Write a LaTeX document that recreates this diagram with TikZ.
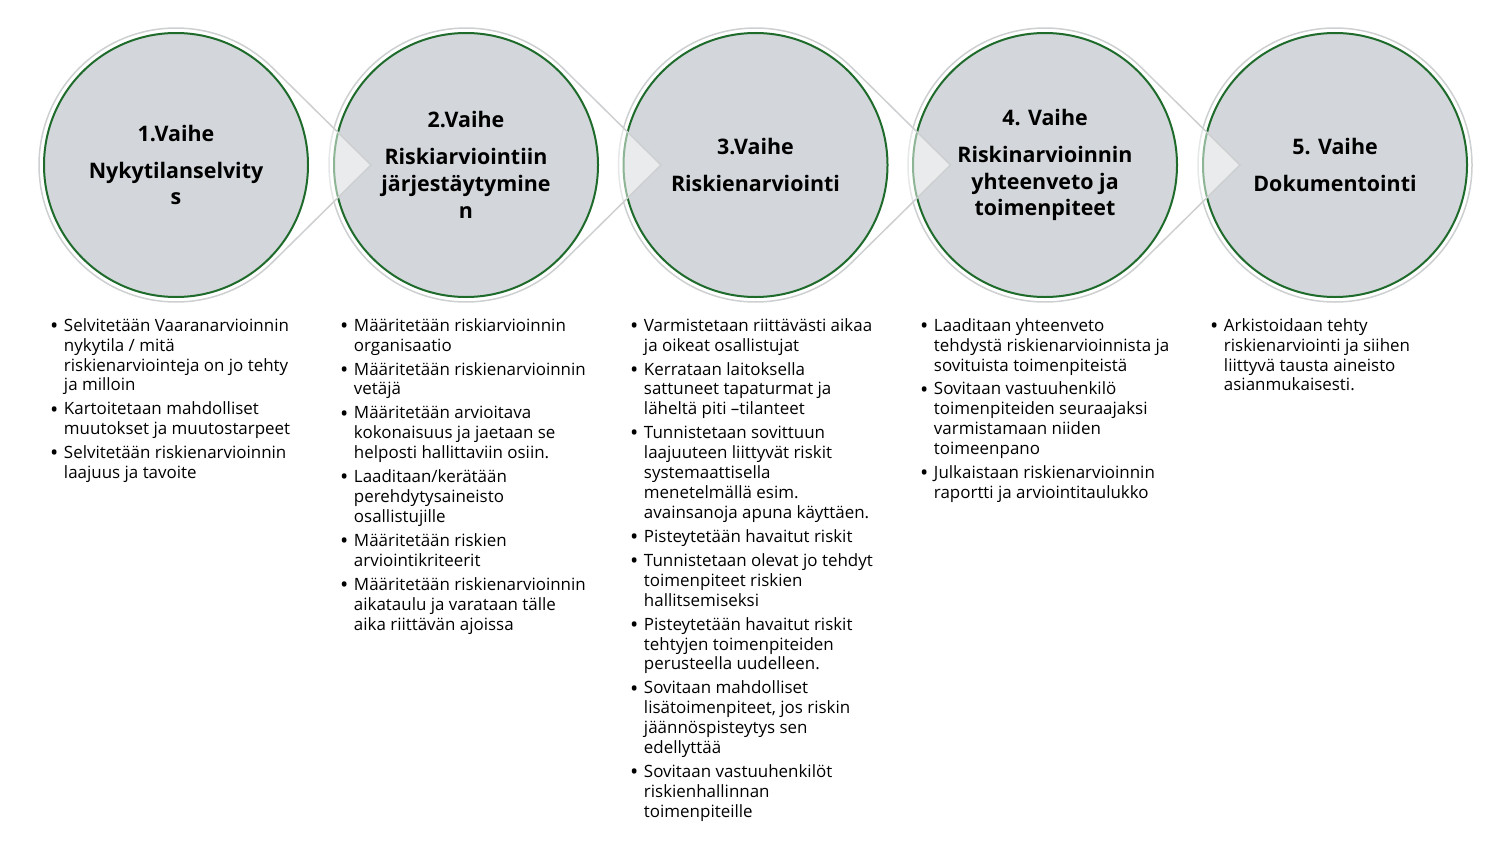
\documentclass[tikz,border=0pt]{standalone}
\usepackage{fontspec}
\setmainfont{Open Sans}
\usetikzlibrary{positioning,calc}
\definecolor{phasegray}{HTML}{D3D7DB}
\definecolor{phasegreen}{HTML}{1E6B2C}
\definecolor{ringgray}{HTML}{CDCFD1}
% outline round a phase circle, pointing to the next one
\newcommand{\teardrop}[1]{%
  \path[tear] ($(#1)+(195,0)$) -- ($(#1)+(45.4:137)$)
    arc[start angle=45.4,end angle=314.6,radius=137] -- cycle;}
\newcommand{\lbul}{\raisebox{-2.2bp}{\scalebox{1.3}{\textbullet}}}

\begin{document}
\begin{tikzpicture}[x=1bp,y=-1bp,
  phase/.style={circle,draw=phasegreen,line width=2bp,fill=phasegray,minimum size=264bp,
    inner sep=0pt,align=center,font=\fontsize{21.5}{27}\selectfont\bfseries},
  tear/.style={draw=ringgray,line width=1.5bp,fill=white,fill opacity=0.5,draw opacity=1},
  list/.style={anchor=north west,inner sep=0pt,font=\fontsize{17}{20}\selectfont}]
\useasboundingbox (0,0) rectangle (1495,841);
\foreach \i/\x in {1/176,2/466,3/755.5,4/1045,5/1335}
  \coordinate (p\i) at (\x,165);

\path[tear] (p5) circle[radius=137];
\node[phase] (c5) at (p5) {5. Vaihe\\[10bp]Dokumentointi};
\teardrop{p4}
\node[phase] (c4) at (p4) {4. Vaihe\\[10bp]Riskinarvioinnin\\yhteenveto ja\\toimenpiteet};
\teardrop{p3}
\node[phase] (c3) at (p3) {3.Vaihe\\[10bp]Riskienarviointi};
\teardrop{p2}
\node[phase] (c2) at (p2) {2.Vaihe\\[10bp]Riskiarviointiin\\järjestäytymine\\n};
\teardrop{p1}
\node[phase] (c1) at (p1) {1.Vaihe\\[10bp]Nykytilanselvity\\s};

\node[list] (l1) at (50,317) {\begin{tabular}{@{}l@{\hspace{5.5bp}}l@{}}
\lbul & Selvitetään Vaaranarvioinnin\\ & nykytila / mitä\\ & riskienarviointeja on jo tehty\\ & ja milloin\\[4bp]
\lbul & Kartoitetaan mahdolliset\\ & muutokset ja muutostarpeet\\[4bp]
\lbul & Selvitetään riskienarvioinnin\\ & laajuus ja tavoite
\end{tabular}};

\node[list] (l2) at (340,317) {\begin{tabular}{@{}l@{\hspace{5.5bp}}l@{}}
\lbul & Määritetään riskiarvioinnin\\ & organisaatio\\[4bp]
\lbul & Määritetään riskienarvioinnin\\ & vetäjä\\[4bp]
\lbul & Määritetään arvioitava\\ & kokonaisuus ja jaetaan se\\ & helposti hallittaviin osiin.\\[4bp]
\lbul & Laaditaan/kerätään\\ & perehdytysaineisto\\ & osallistujille\\[4bp]
\lbul & Määritetään riskien\\ & arviointikriteerit\\[4bp]
\lbul & Määritetään riskienarvioinnin\\ & aikataulu ja varataan tälle\\ & aika riittävän ajoissa
\end{tabular}};

\node[list] (l3) at (630,317) {\begin{tabular}{@{}l@{\hspace{5.5bp}}l@{}}
\lbul & Varmistetaan riittävästi aikaa\\ & ja oikeat osallistujat\\[4bp]
\lbul & Kerrataan laitoksella\\ & sattuneet tapaturmat ja\\ & läheltä piti –tilanteet\\[4bp]
\lbul & Tunnistetaan sovittuun\\ & laajuuteen liittyvät riskit\\ & systemaattisella\\ & menetelmällä esim.\\ & avainsanoja apuna käyttäen.\\[4bp]
\lbul & Pisteytetään havaitut riskit\\[4bp]
\lbul & Tunnistetaan olevat jo tehdyt\\ & toimenpiteet riskien\\ & hallitsemiseksi\\[4bp]
\lbul & Pisteytetään havaitut riskit\\ & tehtyjen toimenpiteiden\\ & perusteella uudelleen.\\[4bp]
\lbul & Sovitaan mahdolliset\\ & lisätoimenpiteet, jos riskin\\ & jäännöspisteytys sen\\ & edellyttää\\[4bp]
\lbul & Sovitaan vastuuhenkilöt\\ & riskienhallinnan\\ & toimenpiteille
\end{tabular}};

\node[list] (l4) at (920,317) {\begin{tabular}{@{}l@{\hspace{5.5bp}}l@{}}
\lbul & Laaditaan yhteenveto\\ & tehdystä riskienarvioinnista ja\\ & sovituista toimenpiteistä\\[4bp]
\lbul & Sovitaan vastuuhenkilö\\ & toimenpiteiden seuraajaksi\\ & varmistamaan niiden\\ & toimeenpano\\[4bp]
\lbul & Julkaistaan riskienarvioinnin\\ & raportti ja arviointitaulukko
\end{tabular}};

\node[list] (l5) at (1210,317) {\begin{tabular}{@{}l@{\hspace{5.5bp}}l@{}}
\lbul & Arkistoidaan tehty\\ & riskienarviointi ja siihen\\ & liittyvä tausta aineisto\\ & asianmukaisesti.
\end{tabular}};
\end{tikzpicture}
\end{document}
